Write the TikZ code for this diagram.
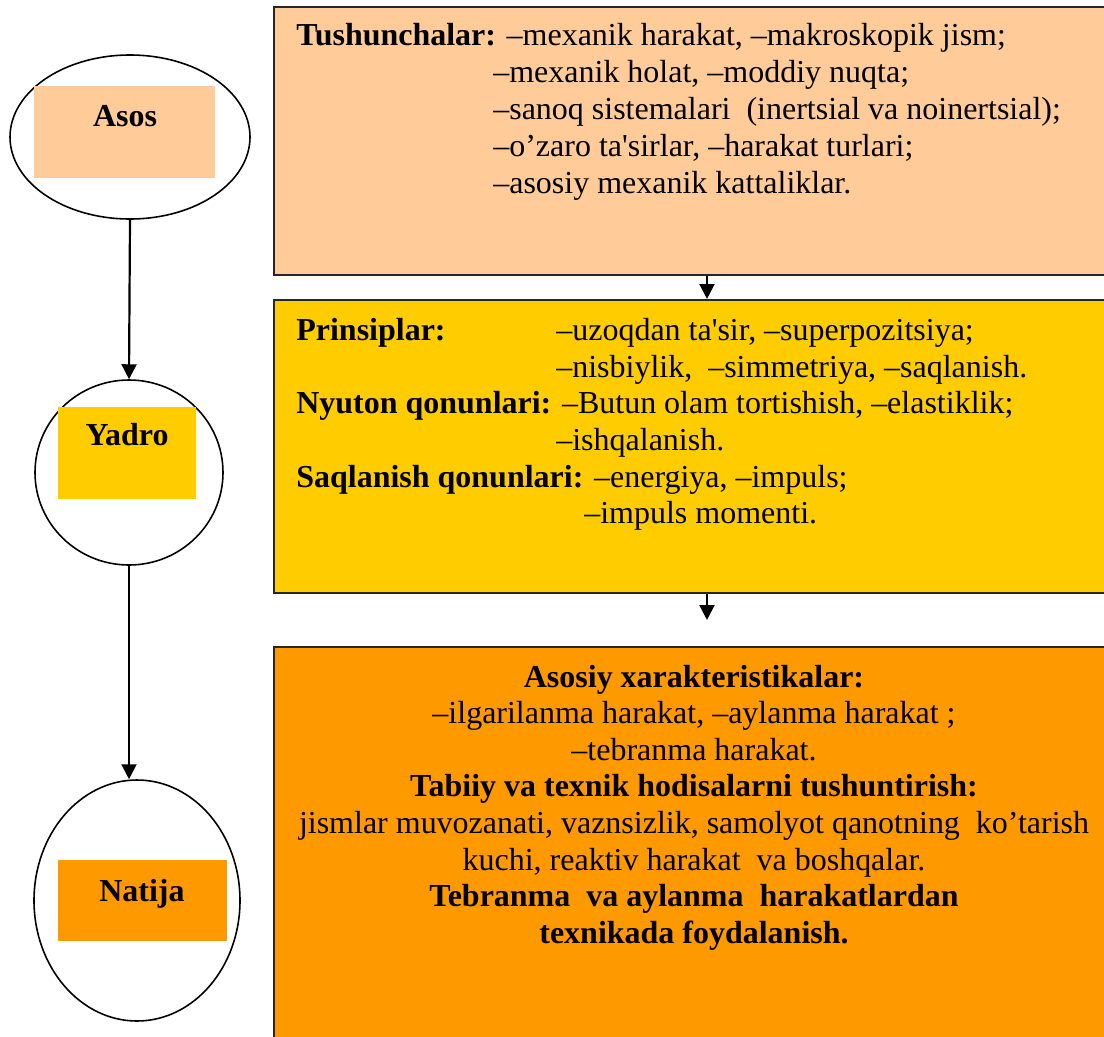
\documentclass[tikz,border=0pt]{standalone}
\usepackage{fontspec}
\setmainfont{Liberation Serif}
\usepackage{tikz}
\usetikzlibrary{shapes.geometric}
\usetikzlibrary{positioning, arrows.meta}

\definecolor{peach}{HTML}{FFCC99}
\definecolor{gold}{HTML}{FFCC00}
\definecolor{amber}{HTML}{FF9900}

\tikzset{
  txt/.style={anchor=base west, inner sep=0pt, font=\fontsize{18.2}{21}\selectfont},
  ctxt/.style={anchor=base, inner sep=0pt, font=\fontsize{18.2}{21}\selectfont},
  bigbox/.style={draw=black!85, line width=1.2pt, minimum width=16.72cm, inner sep=0pt},
  oval/.style={ellipse, draw, line width=0.9pt, inner sep=0pt},
  tag/.style={inner sep=0pt},
  arr/.style={line width=1.25pt, -{Triangle[length=8.5pt,width=8.5pt]}}
}

\begin{document}
\begin{tikzpicture}[scale=0.2]
\clip (0,0) rectangle (110.4,-103.6);
% right column
\node [bigbox, fill=peach, minimum height=5.36cm] (tush) at (69.2,-14.1) {};
\node [bigbox, fill=gold, minimum height=5.86cm] (prin) at (69.2,-44.65) {};
\node [bigbox, fill=amber, minimum height=8.06cm] (xar) at (69.2,-84.85) {};
\coordinate (ax) at (70.7,0);
\coordinate (ax2) at (70.7,-62.0);
\draw [arr] (tush.south -| ax) -- (prin.north -| ax);
\draw [arr] (prin.south -| ax) -- (ax2);
% Tushunchalar
\node [txt] (t1) at (29.6,-4.5) {\textbf{Tushunchalar:} –mexanik harakat, –makroskopik jism;};
\node [txt] (t2) at (49.3,-8.2) {–mexanik holat, –moddiy nuqta;};
\node [txt] (t3) at (49.3,-11.9) {–sanoq sistemalari\ \ (inertsial va noinertsial);};
\node [txt] (t4) at (49.3,-15.6) {–o’zaro ta\textquotesingle sirlar, –harakat turlari;};
\node [txt] (t5) at (49.3,-19.3) {–asosiy mexanik kattaliklar.};
% Prinsiplar
\node [txt] (p1) at (29.6,-34.0) {\textbf{Prinsiplar:}};
\node [txt] (p1b) at (55.6,-34.0) {–uzoqdan ta\textquotesingle sir, –superpozitsiya;};
\node [txt] (p2) at (55.6,-37.7) {–nisbiylik,\ \ –simmetriya, –saqlanish.};
\node [txt] (p3) at (29.6,-41.3) {\textbf{Nyuton qonunlari:} –Butun olam tortishish, –elastiklik;};
\node [txt] (p4) at (55.6,-45.0) {–ishqalanish.};
\node [txt] (p5) at (29.6,-48.7) {\textbf{Saqlanish qonunlari:} –energiya, –impuls;};
\node [txt] (p6) at (58.4,-52.3) {–impuls momenti.};
% Asosiy xarakteristikalar
\node [ctxt] (x1) at (69.4,-68.7) {\textbf{Asosiy xarakteristikalar:}};
\node [ctxt] (x2) at (69.4,-72.36) {–ilgarilanma harakat, –aylanma harakat ;};
\node [ctxt] (x3) at (69.4,-76.02) {–tebranma harakat.};
\node [ctxt] (x4) at (69.4,-79.68) {\textbf{Tabiiy va texnik hodisalarni tushuntirish:}};
\node [ctxt] (x5) at (69.4,-83.34) {jismlar muvozanati, vaznsizlik, samolyot qanotning\ \ ko’tarish};
\node [ctxt] (x6) at (69.4,-87.0) {kuchi, reaktiv harakat\ \ va boshqalar.};
\node [ctxt] (x7) at (69.4,-90.66) {\textbf{Tebranma\ \ va aylanma\ \ harakatlardan}};
\node [ctxt] (x8) at (69.4,-94.32) {\textbf{texnikada foydalanish.}};
% left column
\node [oval, minimum width=4.8cm, minimum height=3.28cm] (asos) at (13.0,-13.7) {};
\node [oval, minimum width=3.76cm, minimum height=3.7cm] (yadro) at (12.9,-47.25) {};
\node [oval, minimum width=4.12cm, minimum height=4.82cm] (natija) at (13.7,-90.05) {};
\node [tag, fill=peach, minimum width=3.62cm, minimum height=1.84cm] (asosbg) at (12.45,-13.2) {};
\node [tag, fill=gold, minimum width=2.76cm, minimum height=1.84cm] (yadrobg) at (12.7,-45.3) {};
\node [tag, fill=amber, minimum width=3.38cm, minimum height=1.62cm] (natijabg) at (14.25,-90.05) {};
\node [ctxt] (asoslbl) at (12.5,-12.6) {\textbf{Asos}};
\node [ctxt] (yadrolbl) at (12.7,-44.57) {\textbf{Yadro}};
\node [ctxt] (natijalbl) at (14.2,-90.1) {\textbf{Natija}};
\draw [arr] (asos.south) -- (yadro.north);
\draw [arr] (yadro.south) -- (yadro.south |- natija.north);
\end{tikzpicture}
\end{document}
